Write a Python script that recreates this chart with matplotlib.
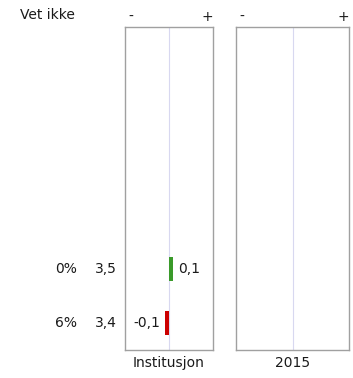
import matplotlib
matplotlib.use("Agg")
import matplotlib.pyplot as plt

rows = ["0%", "6%"]
means = ["3,5", "3,4"]
diffs = [0.1, -0.1]
diff_labels = ["0,1", "-0,1"]
panels = ["Institusjon", "2015"]
header = "Vet ikke"

W, H = 353, 378
fig = plt.figure(figsize=(W/100, H/100), dpi=100)
plt.rcParams['font.family'] = ['DejaVu Sans']
fs = 10
txtc = "#1a1a1a"

def ax_rect(x0, x1, y0, y1):
    return [x0/W, 1 - y1/H, (x1-x0)/W, (y1-y0)/H]

ax1 = fig.add_axes(ax_rect(125, 213, 27, 350))
ax2 = fig.add_axes(ax_rect(236, 349, 27, 350))
ypos = [1, 0]
for ax, name in zip([ax1, ax2], panels):
    ax.set_xlim(-1.0, 1.0)
    ax.set_ylim(-0.5, 5.48)
    ax.set_xticks([]); ax.set_yticks([])
    for s in ax.spines.values():
        s.set_color("#a0a0a0"); s.set_linewidth(1.0)
    ax.axvline(0, color="#d8d8f0", lw=0.8, zorder=0)
    ax.annotate(name, xy=(0.5, 0), xycoords="axes fraction", xytext=(0, -6),
                textcoords="offset pixels", ha="center", va="top", fontsize=fs, color=txtc)
    ax.annotate("-", xy=(0, 1), xycoords="axes fraction", xytext=(3, 3),
                textcoords="offset pixels", ha="left", va="bottom", fontsize=fs, color=txtc)
    ax.annotate("+", xy=(1, 1), xycoords="axes fraction", xytext=(0, 3),
                textcoords="offset pixels", ha="right", va="bottom", fontsize=fs, color=txtc)

colors = ["#3a9a2a" if d > 0 else "#cc0000" for d in diffs]
ax1.barh(ypos, diffs, height=0.43, color=colors, zorder=2)
for y, d, lab in zip(ypos, diffs, diff_labels):
    if d >= 0:
        ax1.text(d + 0.1, y, lab, ha="left", va="center", fontsize=fs, color=txtc)
    else:
        ax1.text(d - 0.1, y, lab, ha="right", va="center", fontsize=fs, color=txtc)

for y, r, m in zip(ypos, rows, means):
    ax1.annotate(r, xy=(0, y), xycoords=("axes fraction", "data"), xytext=(-48, 0),
                 textcoords="offset pixels", ha="right", va="center", fontsize=fs, color=txtc)
    ax1.annotate(m, xy=(0, y), xycoords=("axes fraction", "data"), xytext=(-8, 0),
                 textcoords="offset pixels", ha="right", va="center", fontsize=fs, color=txtc)

fig.text(20/W, 1 - 15/H, header, ha="left", va="center", fontsize=fs, color=txtc)

fig.savefig("out.png", dpi=100)
